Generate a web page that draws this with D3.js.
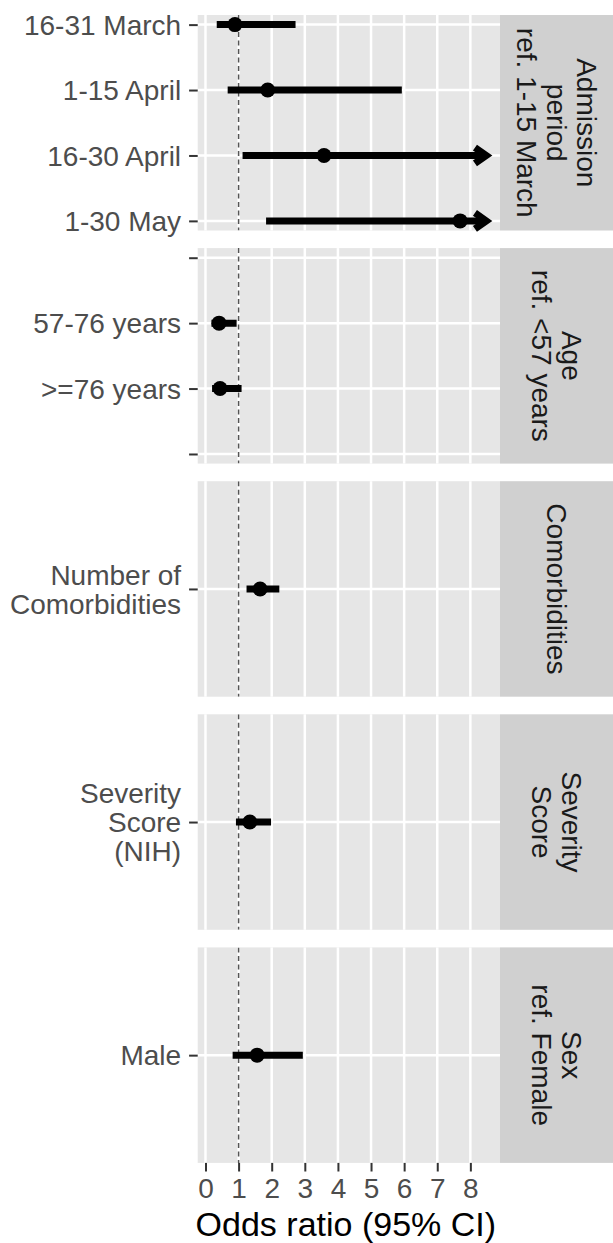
<!DOCTYPE html>
<html>
<head>
<meta charset="utf-8">
<title>Odds ratio forest plot</title>
<script src="https://d3js.org/d3.v7.min.js"></script>
<style>
  body { margin: 0; background: #fff; }
  svg { display: block; font-family: "Liberation Sans", Arial, sans-serif; }
  .panel-bg { fill: #e6e6e6; }
  .strip-bg { fill: #d0d0d0; }
  .grid line { stroke: #fff; stroke-width: 2.5; }
  .axis line { stroke: #333; stroke-width: 2; }
  .axis text { fill: #4d4d4d; font-size: 28px; }
  .strip text { fill: #1a1a1a; font-size: 28px; }
</style>
</head>
<body>
<svg width="613" height="1243"></svg>
<script>
// terms, one per row
const terms = ["16-31 March", "1-15 April", "16-30 April", "1-30 May",
               "57-76 years", ">=76 years",
               "Number of\nComorbidities", "Severity\nScore\n(NIH)", "Male"];
const termGroup = [0, 0, 0, 0, 1, 1, 2, 3, 4];
const oddsRatio = [0.89, 1.88, 3.58, 7.69, 0.41, 0.44, 1.65, 1.34, 1.56];
const ciLower   = [0.34, 0.67, 1.12, 1.83, 0.18, 0.20, 1.24, 0.92, 0.82];
const ciUpper   = [2.72, 5.93, 8.48, 8.48, 0.94, 1.09, 2.23, 1.98, 2.94];
const ciCut     = [false, false, true, true, false, false, false, false, false];

// facet strips and the y levels in each facet (the age facet has two empty levels)
const stripLabels = [["Admission", "period", "ref. 1-15 March"],
                     ["Age", "ref. <57 years"],
                     ["Comorbidities"],
                     ["Severity", "Score"],
                     ["Sex", "ref. Female"]];
const facetLevels = [["16-31 March", "1-15 April", "16-30 April", "1-30 May"],
                     ["_empty1", "57-76 years", ">=76 years", "_empty2"],
                     ["Number of\nComorbidities"],
                     ["Severity\nScore\n(NIH)"],
                     ["Male"]];
const xTicks = [0, 1, 2, 3, 4, 5, 6, 7, 8];
const refValue = 1;
const xTitle = "Odds ratio (95% CI)";

const svg = d3.select("svg");
const panelLeft = 197.7, panelRight = 500, stripW = 113;
const panelTop = 15, panelH = 215.5, panelGap = 17.6;
const lineH = 29, stripLineH = 30;

// x scale: data extent with ggplot-like 5% expansion
const lo = d3.min(ciLower), hi = d3.max(ciUpper);
const pad = (hi - lo) * 0.05;
const x = d3.scaleLinear().domain([lo - pad, hi + pad]).range([panelLeft, panelRight]);

const rows = terms.map((t, i) => ({
  term: t, group: termGroup[i], or: oddsRatio[i],
  lo: ciLower[i], hi: ciUpper[i], cut: ciCut[i]
}));

stripLabels.forEach((strip, g) => {
  const top = panelTop + g * (panelH + panelGap);
  const y = d3.scalePoint().domain(facetLevels[g]).range([top, top + panelH]).padding(0.147);
  const gp = svg.append("g");

  gp.append("rect").attr("class", "panel-bg")
    .attr("x", panelLeft).attr("y", top)
    .attr("width", panelRight - panelLeft).attr("height", panelH);

  const clipId = "clip" + g;
  gp.append("clipPath").attr("id", clipId).append("rect")
    .attr("x", panelLeft).attr("y", top)
    .attr("width", panelRight - panelLeft).attr("height", panelH);

  // grid
  const grid = gp.append("g").attr("class", "grid");
  grid.selectAll("line.v").data(xTicks).join("line").attr("class", "v")
    .attr("x1", d => x(d)).attr("x2", d => x(d))
    .attr("y1", top).attr("y2", top + panelH);
  grid.selectAll("line.h").data(facetLevels[g]).join("line").attr("class", "h")
    .attr("x1", panelLeft).attr("x2", panelRight)
    .attr("y1", d => y(d)).attr("y2", d => y(d));

  const body = gp.append("g").attr("clip-path", `url(#${clipId})`);
  body.append("line")
    .attr("x1", x(refValue)).attr("x2", x(refValue))
    .attr("y1", top).attr("y2", top + panelH)
    .attr("stroke", "#555").attr("stroke-width", 1.5)
    .attr("stroke-dasharray", "5,3.5");

  const data = rows.filter(r => r.group === g);
  body.selectAll("line.ci").data(data).join("line").attr("class", "ci")
    .attr("x1", d => x(d.lo)).attr("x2", d => x(d.hi))
    .attr("y1", d => y(d.term)).attr("y2", d => y(d.term))
    .attr("stroke", "#000").attr("stroke-width", 7);

  // open arrow heads for truncated intervals
  const aL = 13.8, aAng = 35 * Math.PI / 180;
  gp.selectAll("path.arrow").data(data.filter(d => d.cut)).join("path").attr("class", "arrow")
    .attr("d", d => {
      const tx = x(d.hi), ty = y(d.term);
      return `M${tx - aL * Math.cos(aAng)},${ty - aL * Math.sin(aAng)}L${tx},${ty}L${tx - aL * Math.cos(aAng)},${ty + aL * Math.sin(aAng)}`;
    })
    .attr("fill", "none").attr("stroke", "#000").attr("stroke-width", 7)
    .attr("stroke-linejoin", "miter").attr("stroke-miterlimit", 10);

  body.selectAll("circle").data(data).join("circle")
    .attr("cx", d => x(d.or)).attr("cy", d => y(d.term)).attr("r", 7.5)
    .attr("fill", "#000");

  // y axis
  const yAxis = gp.append("g").attr("class", "axis")
    .attr("transform", `translate(${panelLeft},0)`)
    .call(d3.axisLeft(y).tickSize(8.6).tickPadding(8));
  yAxis.select(".domain").remove();
  yAxis.selectAll("text").each(function(d) {
    const t = d3.select(this);
    const lines = d.startsWith("_") ? [] : d.split("\n");
    t.text(null).attr("dy", null);
    const x0 = t.attr("x");
    lines.forEach((ln, k) => {
      t.append("tspan").attr("x", x0)
        .attr("y", (k - (lines.length - 1) / 2) * lineH)
        .attr("dy", "0.35em").text(ln);
    });
  });

  // strip
  const sg = gp.append("g").attr("class", "strip");
  sg.append("rect").attr("class", "strip-bg")
    .attr("x", panelRight).attr("y", top).attr("width", stripW).attr("height", panelH);
  const sx = panelRight + stripW / 2, sy = top + panelH / 2;
  const st = sg.append("text").attr("transform", `translate(${sx},${sy}) rotate(90)`)
    .attr("text-anchor", "middle");
  strip.forEach((ln, k) => {
    st.append("tspan").attr("x", 0)
      .attr("y", (k - (strip.length - 1) / 2) * stripLineH)
      .attr("dy", "0.35em").text(ln);
  });

  if (g === stripLabels.length - 1) {
    const xAxis = gp.append("g").attr("class", "axis")
      .attr("transform", `translate(0,${top + panelH})`)
      .call(d3.axisBottom(x).tickValues(xTicks).tickSize(8.6).tickPadding(7));
    xAxis.select(".domain").remove();
  }
});

svg.append("text")
  .attr("x", (panelLeft + panelRight) / 2 - 3).attr("y", 1236)
  .attr("text-anchor", "middle").attr("font-size", 34).attr("fill", "#000")
  .text(xTitle);
</script>
</body>
</html>
